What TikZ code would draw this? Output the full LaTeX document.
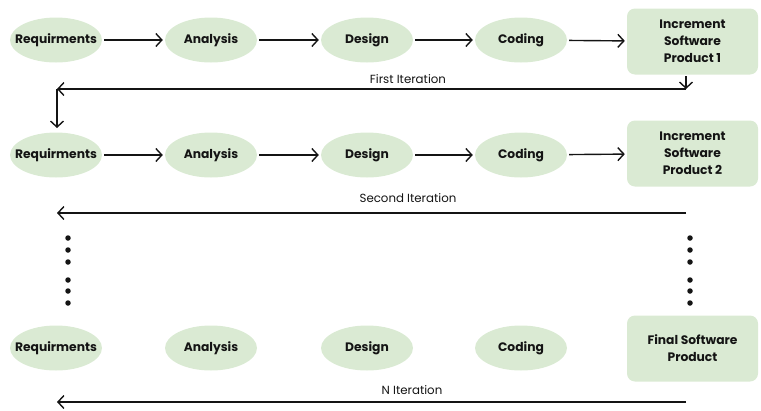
\documentclass[tikz,border=0pt]{standalone}
\usepackage{fontspec}
\setmainfont{Poppins}
\usetikzlibrary{arrows.meta,shapes.geometric}
\definecolor{phase}{RGB}{218,234,211}
\definecolor{ink}{RGB}{20,20,20}
\tikzset{
  phasenode/.style={ellipse, fill=phase, minimum width=92pt, minimum height=45pt, inner xsep=-12pt, inner ysep=0pt, font=\bfseries\fontsize{12.3}{14}\selectfont, text=ink},
  prodbox/.style={rounded corners=8pt, fill=phase, minimum width=131pt, minimum height=66pt, inner sep=0pt, align=center, font=\bfseries\fontsize{12.3}{17}\selectfont, text=ink},
  flow/.style={line width=1.4pt, draw=ink, -{Straight Barb[length=6pt,width=13pt,line width=1.4pt]}, shorten <=2pt, shorten >=2pt},
  back/.style={line width=1.4pt, draw=ink, -{Straight Barb[length=6pt,width=13pt,line width=1.4pt]}},
  itlabel/.style={font=\fontsize{11.8}{13}\selectfont, text=ink, inner sep=0pt},
  dotmark/.style={circle, fill=ink, minimum size=5.5pt, inner sep=0pt}
}
\begin{document}
\begin{tikzpicture}[x=1pt,y=-1pt]
\useasboundingbox (0,0) rectangle (761,410);
% Row 1
\node[phasenode] (r1) at (56,40) {Requirments};
\node[phasenode] (a1) at (211,40) {Analysis};
\node[phasenode] (d1) at (367,40) {Design};
\node[phasenode] (c1) at (521,40) {Coding};
\node[prodbox] (p1) at (692.5,41.5) {Increment\\Software\\Product 1};
\draw[flow] (r1) -- (a1);
\draw[flow] (a1) -- (d1);
\draw[flow] (d1) -- (c1);
\draw[flow] (c1) -- (p1);
% Row 2
\node[phasenode] (r2) at (56,155) {Requirments};
\node[phasenode] (a2) at (211,155) {Analysis};
\node[phasenode] (d2) at (367,155) {Design};
\node[phasenode] (c2) at (521,155) {Coding};
\node[prodbox] (p2) at (692.5,153.5) {Increment\\Software\\Product 2};
\draw[flow] (r2) -- (a2);
\draw[flow] (a2) -- (d2);
\draw[flow] (d2) -- (c2);
\draw[flow] (c2) -- (p2);
% Row 3
\node[phasenode] (r3) at (56,348) {Requirments};
\node[phasenode] (a3) at (211,348) {Analysis};
\node[phasenode] (d3) at (367,348) {Design};
\node[phasenode] (c3) at (521,348) {Coding};
\node[prodbox] (p3) at (692.5,348.5) {Final Software\\Product};
% First iteration loop
\coordinate (f1top) at (686,76);
\coordinate (f1r) at (686,89);
\coordinate (f1l) at (57,89);
\coordinate (f1bot) at (57,128);
\draw[back] (f1top) -- (f1r);
\draw[back] (f1r) -- (f1l);
\draw[back] (f1l) -- (f1bot);
\node[itlabel] (l1) at (408,79) {First Iteration};
% Second iteration
\coordinate (s2r) at (686,213);
\coordinate (s2l) at (57,213);
\draw[back] (s2r) -- (s2l);
\node[itlabel] (l2) at (408,198) {Second Iteration};
% N iteration
\coordinate (nr) at (686,402);
\coordinate (nl) at (57,402);
\draw[back] (nr) -- (nl);
\node[itlabel] (l3) at (412,390) {N Iteration};
% Dots
\foreach \yy [count=\i] in {238,250,262,280,291,303} {
  \node[dotmark] (ld\i) at (68,\yy) {};
  \node[dotmark] (rd\i) at (690,\yy) {};
}
\end{tikzpicture}
\end{document}
